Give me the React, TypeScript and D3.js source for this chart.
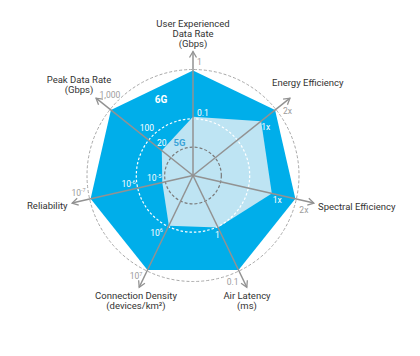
import React from "react";
import * as d3 from "d3";

// ---- data ----
const axisTitles: string[][] = [
  ["User Experienced", "Data Rate", "(Gbps)"],
  ["Energy Efficiency"],
  ["Spectral Efficiency"],
  ["Air Latency", "(ms)"],
  ["Connection Density", "(devices/km²)"],
  ["Reliability"],
  ["Peak Data Rate", "(Gbps)"],
];
// normalized radial position of each generation's value on each axis
const sixG = [1, 1, 1, 1, 1, 1, 1];
const fiveG = [0.56, 0.83, 0.77, 0.55, 0.53, 0.3, 0.38];
const rings = [0.27, 0.54, 1.0];

// tick labels per axis: [base, superscript]
const tickText: [string, string][][] = [
  [["0.1", ""], ["1", ""]],
  [["1x", ""], ["2x", ""]],
  [["1x", ""], ["2x", ""]],
  [["1", ""], ["0.1", ""]],
  [["10", "6"], ["10", "7"]],
  [["10", "-5"], ["10", "-6"], ["10", "-7"]],
  [["20", ""], ["100", ""], ["1,000", ""]],
];
const tickValues: number[][] = [
  [0.56, 1],
  [0.83, 1],
  [0.77, 1],
  [0.55, 1],
  [0.53, 1],
  [0.3, 0.55, 1],
  [0.38, 0.55, 1],
];

// ---- layout / style ----
const W = 420, H = 356;
const cx = 193, cy = 175.5;
const R = 105;
const ARROW = 124;
const DARK = "#00AEEA";
const LIGHT = "#BEE4F3";
const AXIS = "#929292";
const FONT = "Roboto, 'Open Sans', sans-serif";

// label offsets [dx, dy, anchor] per tick (layout only)
const tickLayout: [number, number, string][][] = [
  [[4, -1, "start"], [4, -5.5, "start"]],
  [[0, 9, "start"], [8, 4, "start"]],
  [[1, 9.5, "start"], [4, 14, "start"]],
  [[-3, 10.5, "start"], [0, 15, "end"]],
  [[-6, 10, "end"], [-5, 9, "end"]],
  [[-1, -1.5, "end"], [-1, -1, "end"], [-5, -3, "end"]],
  [[0, -5, "middle"], [-1, -8.5, "middle"], [-1, -12, "middle"]],
];
const tickInner = [[true, false], [true, false], [true, false], [true, false], [true, false], [true, true, false], [true, true, false]];

const titleLayout: { x: number; y: number; anchor: string }[] = [
  { x: 193, y: 26.5, anchor: "middle" },
  { x: 272, y: 86, anchor: "start" },
  { x: 318, y: 210, anchor: "start" },
  { x: 247, y: 299, anchor: "middle" },
  { x: 136, y: 299, anchor: "middle" },
  { x: 27, y: 209, anchor: "start" },
  { x: 79, y: 83, anchor: "middle" },
];

export default function App() {
  const n = axisTitles.length;
  const angle = d3.scaleLinear().domain([0, n]).range([0, 2 * Math.PI]);
  const r = d3.scaleLinear().domain([0, 1]).range([0, R]);
  const radial = d3
    .lineRadial<number>()
    .angle((_, i) => angle(i))
    .radius((d) => r(d))
    .curve(d3.curveLinearClosed);
  const pt = (i: number, rad: number) => {
    const a = angle(i);
    return [cx + rad * Math.sin(a), cy - rad * Math.cos(a)];
  };

  return (
    <svg width={W} height={H} style={{ position: "absolute", left: 0, top: 0, background: "#fff" }} fontFamily={FONT}>
      <g transform={`translate(${cx},${cy})`}>
        <path d={radial(sixG) || ""} fill={DARK} />
        <path d={radial(fiveG) || ""} fill={LIGHT} />
        <circle r={r(rings[2]) + 1} fill="none" stroke="#a8a8a8" strokeWidth={1} strokeDasharray="3,2" />
        <circle r={r(rings[1])} fill="none" stroke="#ffffff" strokeWidth={1.2} strokeDasharray="2.5,2" />
        <circle r={r(rings[0])} fill="none" stroke="#7a7a7a" strokeWidth={1.2} strokeDasharray="3,2" />
      </g>
      {axisTitles.map((_, i) => {
        const [x2, y2] = pt(i, ARROW);
        const a = angle(i);
        const ux = Math.sin(a), uy = -Math.cos(a);
        const px = -uy, py = ux;
        const back = 6, half = 3.5;
        const h1 = [x2 - ux * back + px * half, y2 - uy * back + py * half];
        const h2 = [x2 - ux * back - px * half, y2 - uy * back - py * half];
        return (
          <g key={i}>
            <line x1={cx} y1={cy} x2={x2} y2={y2} stroke={AXIS} strokeWidth={1.5} />
            <polyline points={`${h1[0]},${h1[1]} ${x2},${y2} ${h2[0]},${h2[1]}`} fill="none" stroke={AXIS} strokeWidth={1.3} />
          </g>
        );
      })}
      {tickText.map((list, i) =>
        list.map((t, j) => {
          const [x, y] = pt(i, r(tickValues[i][j]));
          const [dx, dy, anchor] = tickLayout[i][j];
          return (
            <text
              key={`${i}-${j}`}
              x={x + dx}
              y={y + dy}
              textAnchor={anchor as any}
              fontSize={8.5}
              fill={tickInner[i][j] ? "#ffffff" : "#9c9c9c"}
            >
              {t[0]}
              {t[1] && (
                <tspan fontSize={5.5} dy={-3.5}>
                  {t[1]}
                </tspan>
              )}
            </text>
          );
        })
      )}
      <text x={cx - 32} y={cy - 72.5} textAnchor="middle" fontSize={10} fontWeight={700} fill="#ffffff">6G</text>
      <text x={cx - 13.5} y={cy - 29.5} textAnchor="middle" fontSize={9.5} fontWeight={700} fill="#3aa3d8">5G</text>
      {axisTitles.map((lines, i) => (
        <text key={i} x={titleLayout[i].x} y={titleLayout[i].y} textAnchor={titleLayout[i].anchor as any} fontSize={9.5} fill="#333">
          {lines.map((l, k) => (
            <tspan key={k} x={titleLayout[i].x} dy={k === 0 ? 0 : 10.3}>
              {l}
            </tspan>
          ))}
        </text>
      ))}
    </svg>
  );
}
